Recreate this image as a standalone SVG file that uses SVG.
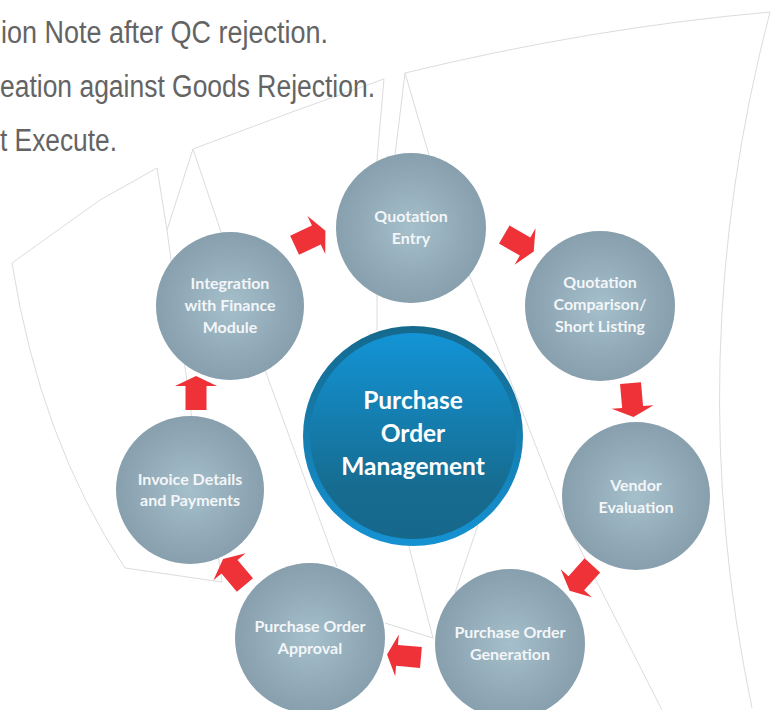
<svg xmlns="http://www.w3.org/2000/svg" width="778" height="710" viewBox="0 0 778 710">
<style>
.bg{fill:none;stroke:#dcdcdc;stroke-width:1}
.node{fill:url(#ng)}
.lbl{font-family:Lato,"Open Sans",sans-serif;font-weight:bold;font-size:16px;fill:#f3f6f8;text-anchor:middle}
.clbl{font-family:Lato,"Open Sans",sans-serif;font-weight:bold;font-size:24.5px;fill:#ffffff;text-anchor:middle}
.top{font-family:"Liberation Sans",Arial,sans-serif;font-size:31px;fill:#646464}
.arr{fill:#ee3238}
</style>
<defs>
<radialGradient id="ng" cx="0.5" cy="0.5" r="0.5">
<stop offset="0" stop-color="#a5bfcb"/>
<stop offset="1" stop-color="#889fad"/>
</radialGradient>
<linearGradient id="ring" x1="0" y1="0" x2="0" y2="1">
<stop offset="0" stop-color="#15698d"/>
<stop offset="1" stop-color="#1592d3"/>
</linearGradient>
<linearGradient id="core" x1="0" y1="0" x2="0" y2="1">
<stop offset="0" stop-color="#1394d6"/>
<stop offset="0.75" stop-color="#166c90"/>
<stop offset="1" stop-color="#16688b"/>
</linearGradient>
<polygon id="ar" points="-17,-10.5 7,-10.5 7,-21 17,0 7,21 7,10.5 -17,10.5"/>
</defs>
<rect width="778" height="710" fill="#ffffff"/>
<g id="background">
<path class="bg" d="M405,73 Q590,28 770,12"/>
<path class="bg" d="M770,12 Q679,360 752,708"/>
<path class="bg" d="M405,73 L395,155"/>
<path class="bg" d="M405,73 L429,155 L470,277 L562,513 L662,710"/>
<path class="bg" d="M384,79 Q290,112 193,149"/>
<path class="bg" d="M384,79 L377,160 L377,330"/>
<path class="bg" d="M193,149 L167,230 L192,420"/>
<path class="bg" d="M193,149 L221,232"/>
<path class="bg" d="M157,168 L100,200 L12,263"/>
<path class="bg" d="M157,168 L167,230"/>
<path class="bg" d="M12,263 Q40,440 125,568 L222,582 L218,555"/>
<path class="bg" d="M265,370 L337,567"/>
<path class="bg" d="M408,543 L433,638"/>
<path class="bg" d="M478,525 L455,593"/>
<path class="bg" d="M385,623 L433,638"/>
</g>
<g id="top-text">
<text class="top" x="1" y="43" textLength="327" lengthAdjust="spacingAndGlyphs">ion Note after QC rejection.</text>
<text class="top" x="0" y="97" textLength="375" lengthAdjust="spacingAndGlyphs">eation against Goods Rejection.</text>
<text class="top" x="0" y="151" textLength="117" lengthAdjust="spacingAndGlyphs">t Execute.</text>
</g>
<g id="connectors">
<use href="#ar" class="arr" transform="translate(310,238) rotate(-25)"/>
<use href="#ar" class="arr" transform="translate(519,243) rotate(30)"/>
<use href="#ar" class="arr" transform="translate(632,400) rotate(85)"/>
<use href="#ar" class="arr" transform="translate(581,578) rotate(132)"/>
<use href="#ar" class="arr" transform="translate(404,656) rotate(185)"/>
<use href="#ar" class="arr" transform="translate(234,572) rotate(230)"/>
<use href="#ar" class="arr" transform="translate(196,393) rotate(270)"/>
</g>
<g id="center">
<circle cx="413" cy="436" r="110" fill="url(#ring)"/>
<circle cx="413" cy="436" r="103" fill="url(#core)"/>
<text class="clbl" x="413" y="409">Purchase</text>
<text class="clbl" x="413" y="442">Order</text>
<text class="clbl" x="413" y="475">Management</text>
</g>
<g id="quotation-entry">
<circle class="node" cx="411" cy="228" r="75"/>
<text class="lbl" x="411" y="222">Quotation</text>
<text class="lbl" x="411" y="244">Entry</text>
</g>
<g id="quotation-comparison">
<circle class="node" cx="600" cy="306" r="75"/>
<text class="lbl" x="600" y="288">Quotation</text>
<text class="lbl" x="600" y="310">Comparison/</text>
<text class="lbl" x="600" y="332">Short Listing</text>
</g>
<g id="vendor-evaluation">
<circle class="node" cx="636" cy="496" r="74"/>
<text class="lbl" x="636" y="491">Vendor</text>
<text class="lbl" x="636" y="513">Evaluation</text>
</g>
<g id="po-generation">
<circle class="node" cx="510" cy="644" r="75"/>
<text class="lbl" x="510" y="638">Purchase Order</text>
<text class="lbl" x="510" y="660">Generation</text>
</g>
<g id="po-approval">
<circle class="node" cx="310" cy="638" r="75"/>
<text class="lbl" x="310" y="632">Purchase Order</text>
<text class="lbl" x="310" y="654">Approval</text>
</g>
<g id="invoice">
<circle class="node" cx="190" cy="490" r="74"/>
<text class="lbl" x="190" y="485">Invoice Details</text>
<text class="lbl" x="190" y="506">and Payments</text>
</g>
<g id="finance">
<circle class="node" cx="230" cy="306" r="74"/>
<text class="lbl" x="230" y="289">Integration</text>
<text class="lbl" x="230" y="311">with Finance</text>
<text class="lbl" x="230" y="333">Module</text>
</g>
</svg>
